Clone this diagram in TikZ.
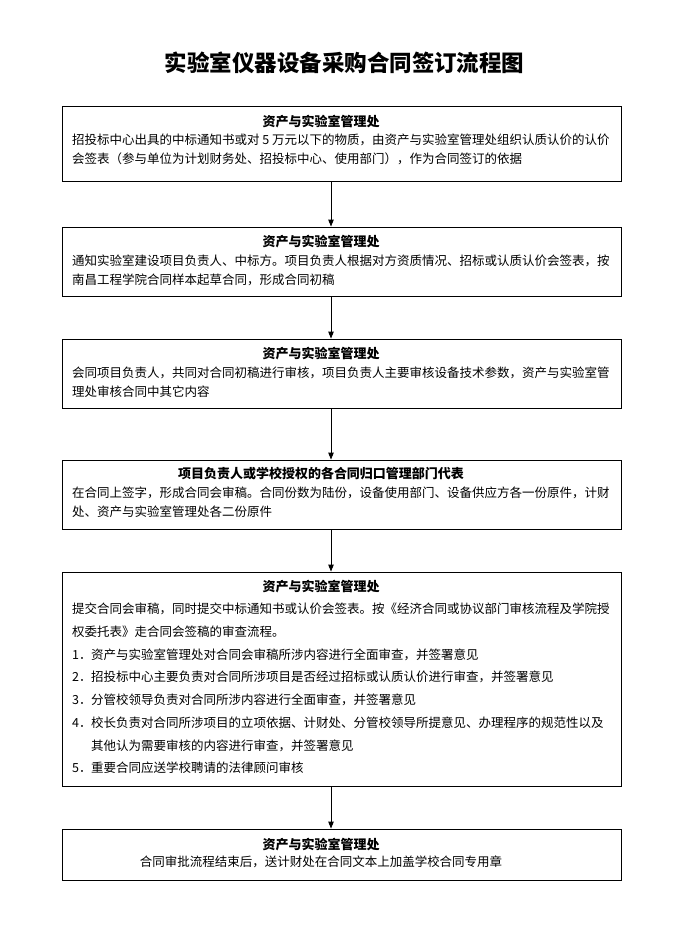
\documentclass[tikz,border=0pt]{standalone}
\usepackage{fontspec}
\setmainfont{Noto Sans CJK SC}
\usetikzlibrary{arrows.meta}
\tikzset{
  flowbox/.style={draw, line width=0.9pt, minimum width=559pt, inner sep=0pt},
  boxhead/.style={inner sep=0pt, font=\fontsize{13}{16}\selectfont\bfseries},
  boxtext/.style={anchor=north west, align=left, inner sep=0pt, font=\fontsize{12.5}{18.5}\selectfont},
  flowarrow/.style={line width=0.9pt, -{Triangle[length=7pt,width=5.5pt]}}
}
\begin{document}
\begin{tikzpicture}[x=1pt,y=-1pt]
  \useasboundingbox (0,0) rectangle (674,930);
  \node[font=\fontsize{22.5}{26}\selectfont\bfseries] (title) at (344.5,63) {实验室仪器设备采购合同签订流程图};

  % boxes
  \node[flowbox, minimum height=75pt]  (b1) at (341.5,143.5) {};
  \node[flowbox, minimum height=69pt]  (b2) at (341.5,261.5) {};
  \node[flowbox, minimum height=69pt]  (b3) at (341.5,373.5) {};
  \node[flowbox, minimum height=69pt]  (b4) at (341.5,494.5) {};
  \node[flowbox, minimum height=214pt] (b5) at (341.5,679) {};
  \node[flowbox, minimum height=51pt]  (b6) at (341.5,854.5) {};

  % headers
  \node[boxhead] (h1) at (321,122) {资产与实验室管理处};
  \node[boxhead] (h2) at (321,242) {资产与实验室管理处};
  \node[boxhead] (h3) at (321,354) {资产与实验室管理处};
  \node[boxhead] (h4) at (321,474) {项目负责人或学校授权的各合同归口管理部门代表};
  \node[boxhead] (h5) at (321,587) {资产与实验室管理处};
  \node[boxhead] (h6) at (321,845) {资产与实验室管理处};

  % texts
  \node[boxtext] (t1) at (72,134) {招投标中心出具的中标通知书或对 5 万元以下的物质，由资产与实验室管理处组织认质认价的认价\\
    会签表（参与单位为计划财务处、招投标中心、使用部门），作为合同签订的依据};
  \node[boxtext] (t2) at (72,255) {通知实验室建设项目负责人、中标方。项目负责人根据对方资质情况、招标或认质认价会签表，按\\
    南昌工程学院合同样本起草合同，形成合同初稿};
  \node[boxtext] (t3) at (72,367) {会同项目负责人，共同对合同初稿进行审核，项目负责人主要审核设备技术参数，资产与实验室管\\
    理处审核合同中其它内容};
  \node[boxtext] (t4) at (72,487) {在合同上签字，形成合同会审稿。合同份数为陆份，设备使用部门、设备供应方各一份原件，计财\\
    处、资产与实验室管理处各二份原件};
  \node[boxtext, font=\fontsize{12.5}{22.7}\selectfont] (t5) at (72,603) {提交合同会审稿，同时提交中标通知书或认价会签表。按《经济合同或协议部门审核流程及学院授\\
    权委托表》走合同会签稿的审查流程。\\
    \makebox[19pt][l]{1．}资产与实验室管理处对合同会审稿所涉内容进行全面审查，并签署意见\\
    \makebox[19pt][l]{2．}招投标中心主要负责对合同所涉项目是否经过招标或认质认价进行审查，并签署意见\\
    \makebox[19pt][l]{3．}分管校领导负责对合同所涉内容进行全面审查，并签署意见\\
    \makebox[19pt][l]{4．}校长负责对合同所涉项目的立项依据、计财处、分管校领导所提意见、办理程序的规范性以及\\
    \hspace*{19pt}其他认为需要审核的内容进行审查，并签署意见\\
    \makebox[19pt][l]{5．}重要合同应送学校聘请的法律顾问审核};
  \node[inner sep=0pt, font=\fontsize{12.5}{18.5}\selectfont] (t6) at (321,862) {合同审批流程结束后，送计财处在合同文本上加盖学校合同专用章};

  % arrows
  \coordinate (axis) at (331,0);
  \foreach \a/\b in {b1/b2,b2/b3,b3/b4,b4/b5,b5/b6}
    \draw[flowarrow] (\a.south -| axis) -- (\b.north -| axis);
\end{tikzpicture}
\end{document}
